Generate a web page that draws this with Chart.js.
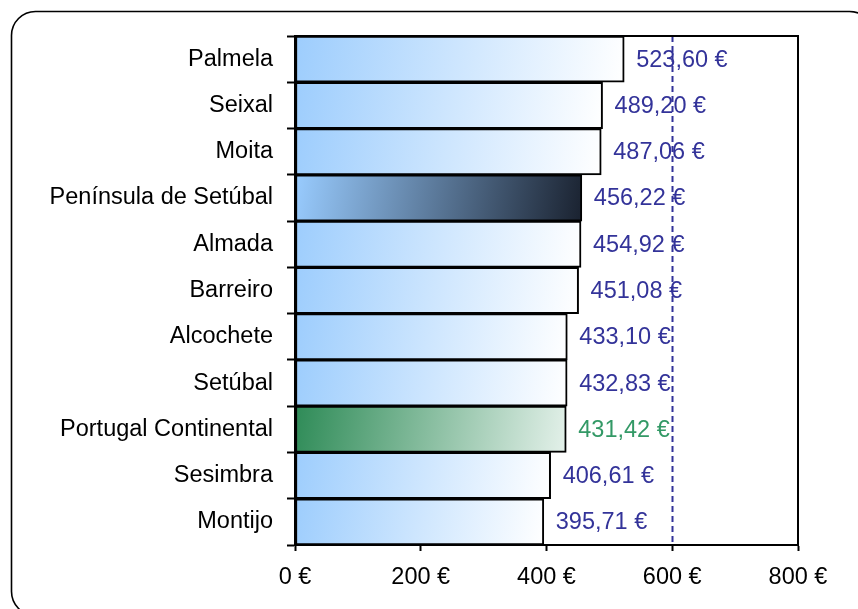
<!DOCTYPE html>
<html>
<head>
<meta charset="utf-8">
<script src="https://cdn.jsdelivr.net/npm/chart.js@4/dist/chart.umd.min.js"></script>
<style>
  body { margin: 0; background: #fff; }
  #wrap { width: 858px; height: 609px; }
</style>
</head>
<body>
<div id="wrap"><canvas id="chart"></canvas></div>
<script>
// Data
const categories = ['Palmela', 'Seixal', 'Moita', 'Península de Setúbal', 'Almada', 'Barreiro',
    'Alcochete', 'Setúbal', 'Portugal Continental', 'Sesimbra', 'Montijo'];
const values = [523.60, 489.20, 487.06, 456.22, 454.92, 451.08, 433.10, 432.83, 431.42, 406.61, 395.71];
const xTicks = [0, 200, 400, 600, 800];
const referenceLine = 600;
const regionName = 'Península de Setúbal';
const countryName = 'Portugal Continental';

const FONT = 'Liberation Sans, Arial, sans-serif';
const BLUE_TEXT = '#333399';
const GREEN_TEXT = '#339966';

function fmt(v) {
    return v.toFixed(2).replace('.', ',') + ' €';
}

// Gradient per bar, from top-left to bottom-right of the bar
function barFill(ctx) {
    const chart = ctx.chart;
    const name = categories[ctx.dataIndex];
    let from = '#9dcdfd', to = '#ffffff';
    if (name === regionName) { from = '#99ccff'; to = '#1a2230'; }
    if (name === countryName) { from = '#2e8b57'; to = '#e4f1ea'; }
    if (!chart.chartArea) return from;
    const xs = chart.scales.x, ys = chart.scales.y;
    const h = (ys.bottom - ys.top) / categories.length;
    const yc = ys.getPixelForValue(ctx.dataIndex);
    const x0 = xs.getPixelForValue(0);
    const x1 = xs.getPixelForValue(ctx.raw);
    const g = chart.ctx.createLinearGradient(x0, yc - h / 2, x1, yc + h / 2);
    g.addColorStop(0, from);
    g.addColorStop(1, to);
    return g;
}

const extras = {
    id: 'extras',
    beforeDraw(chart) {
        const c = chart.ctx;
        c.save();
        c.fillStyle = '#fff';
        c.fillRect(0, 0, chart.width, chart.height);
        // rounded frame (runs off the right and bottom edge)
        c.beginPath();
        c.roundRect(11.5, 11.5, 862, 604, 24);
        c.lineWidth = 1.6;
        c.strokeStyle = '#000';
        c.stroke();
        c.restore();
    },
    afterDatasetsDraw(chart) {
        const c = chart.ctx;
        const meta = chart.getDatasetMeta(0);
        c.save();
        c.font = '23.5px ' + FONT;
        c.textAlign = 'left';
        c.textBaseline = 'middle';
        meta.data.forEach((bar, i) => {
            c.fillStyle = categories[i] === countryName ? GREEN_TEXT : BLUE_TEXT;
            c.fillText(fmt(values[i]), bar.x + 12, bar.y + 1);
        });
        // dashed reference line
        const a = chart.chartArea;
        const x = Math.round(chart.scales.x.getPixelForValue(referenceLine)) + 0.5;
        c.beginPath();
        c.setLineDash([6, 4]);
        c.moveTo(x, a.top);
        c.lineTo(x, a.bottom);
        c.lineWidth = 2;
        c.strokeStyle = BLUE_TEXT;
        c.stroke();
        c.setLineDash([]);
        // plot area box
        c.lineWidth = 2;
        c.strokeStyle = '#000';
        c.strokeRect(a.left, a.top, a.right - a.left, a.bottom - a.top);
        c.restore();
    }
};

new Chart(document.getElementById('chart'), {
    type: 'bar',
    data: {
        labels: categories,
        datasets: [{
            data: values,
            backgroundColor: barFill,
            borderColor: '#000',
            borderWidth: 2,
            borderSkipped: false,
            barPercentage: 1,
            categoryPercentage: 1
        }]
    },
    options: {
        indexAxis: 'y',
        responsive: true,
        maintainAspectRatio: false,
        animation: false,
        layout: { padding: { top: 36, right: 60, left: 0, bottom: 0 } },
        plugins: {
            legend: { display: false },
            tooltip: { enabled: false }
        },
        scales: {
            x: {
                min: 0,
                max: 800,
                afterFit(scale) { scale.height = 64; },
                afterBuildTicks(scale) { scale.ticks = xTicks.map(v => ({ value: v })); },
                ticks: {
                    color: '#000',
                    font: { family: FONT, size: 23.5 },
                    padding: 12,
                    callback: v => v + ' €'
                },
                grid: { drawOnChartArea: false, color: '#000', tickLength: 6, tickWidth: 2 },
                border: { color: '#000', width: 2 }
            },
            y: {
                afterFit(scale) { scale.width = 295; },
                ticks: {
                    color: '#000',
                    font: { family: FONT, size: 23.5 },
                    padding: 14
                },
                grid: { drawOnChartArea: false, color: '#000', tickLength: 8, tickWidth: 2 },
                border: { color: '#000', width: 2 }
            }
        }
    },
    plugins: [extras]
});
</script>
</body>
</html>
